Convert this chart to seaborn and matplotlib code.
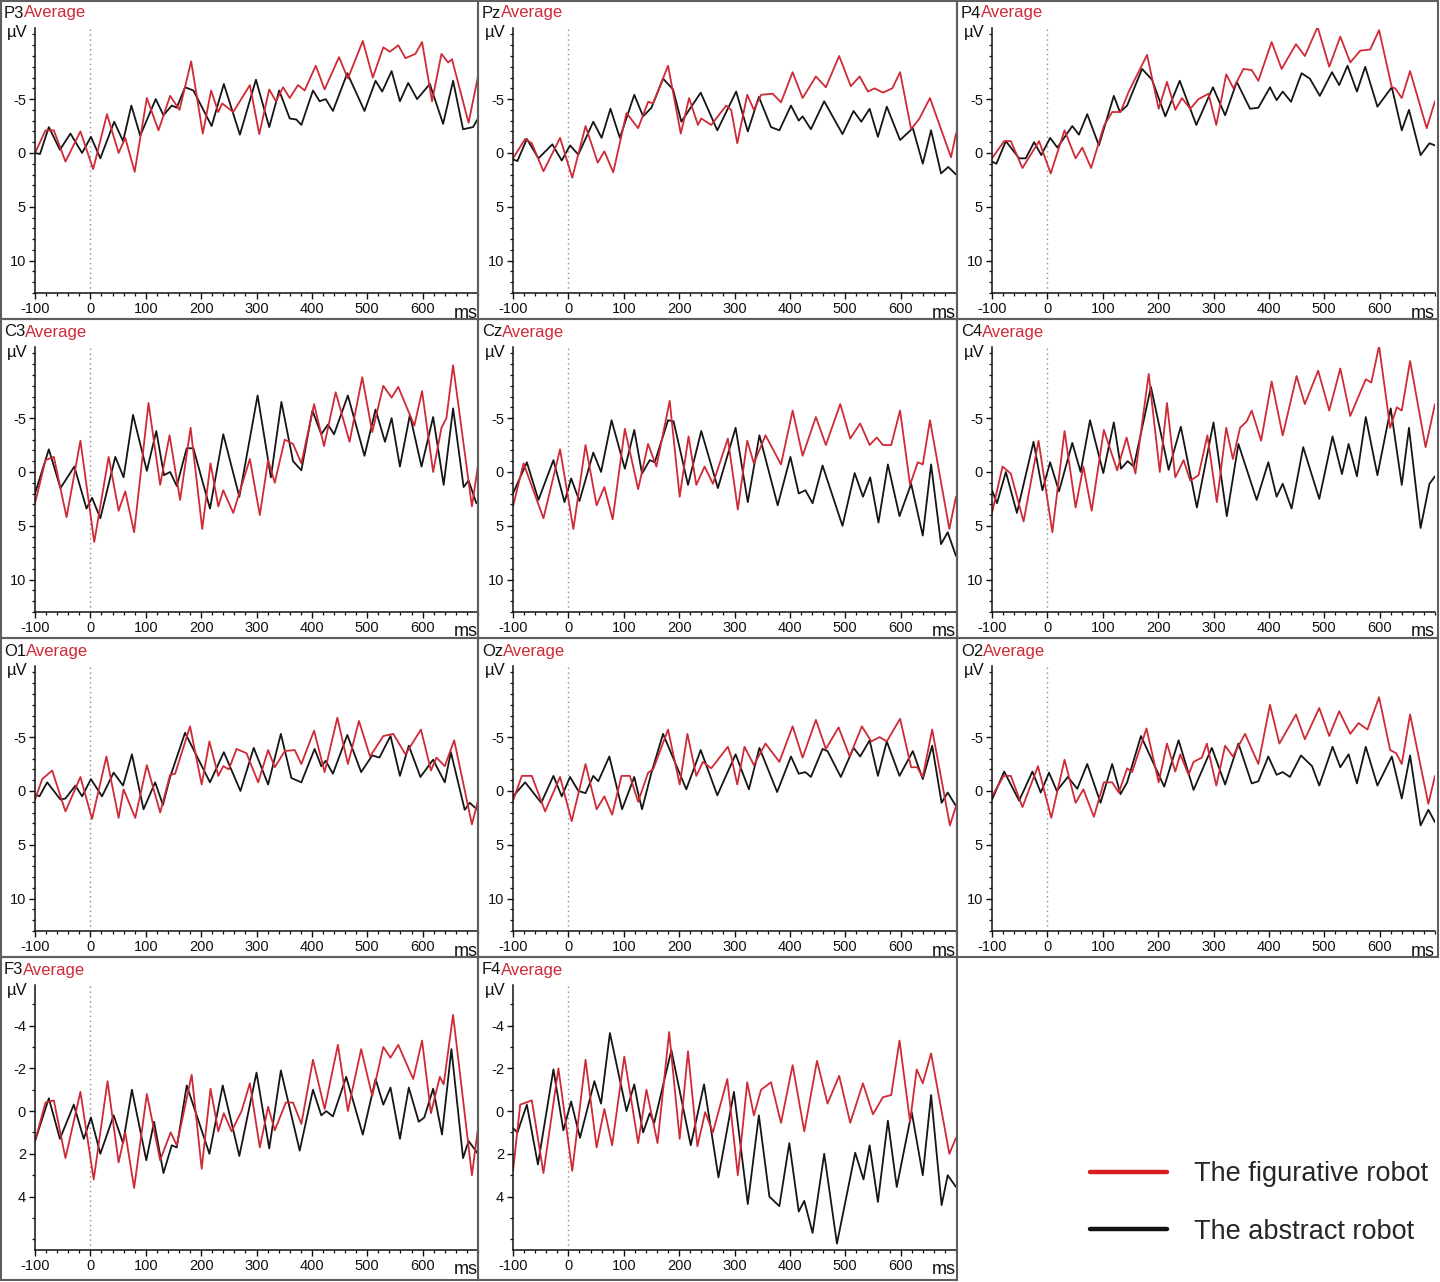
import matplotlib
matplotlib.use("Agg")
import matplotlib.pyplot as plt
import seaborn as sns
import pandas as pd
from matplotlib.patches import Rectangle
from matplotlib.lines import Line2D
from matplotlib.ticker import MultipleLocator, FixedLocator

sns.set_style("white")
plt.rcParams['font.family'] = ['Liberation Sans', 'DejaVu Sans']
plt.rcParams['axes.unicode_minus'] = False

# ---------------- data: (time ms, amplitude µV) ----------------
P3_figurative = [(-100,0),(-81,-2.1),(-66,-2.1),(-45,0.8),(-18,-2.0),(5,1.5),(30,-3.6),(51,0),(63,-1.4),(80,1.75),
    (102,-5.1),(123,-2.1),(144,-5.3),(161,-4.0),(182,-8.5),(203,-1.8),(218,-5.8),(231,-3.8),(238,-4.6),(258,-3.8),
    (288,-6.3),(305,-1.75),(323,-5.9),(335,-4.8),(348,-6.1),(360,-5.1),(375,-6.3),(387,-5.8),(407,-8.1),(423,-5.9),
    (449,-8.9),(465,-6.9),(492,-10.4),(510,-7.0),(529,-9.8),(541,-9.4),(556,-10.0),(569,-8.8),(587,-9.2),(599,-10.3),
    (617,-4.8),(634,-9.2),(646,-8.4),(653,-8.7),(683,-2.8),(700,-7.1)]
P3_abstract = [(-100,0),(-91,0.1),(-75,-2.4),(-55,-0.3),(-36,-1.8),(-15,0),(1,-1.5),(18,0.5),(43,-2.9),(59,-1.1),
    (74,-4.4),(90,-1.6),(118,-5.0),(132,-3.5),(147,-4.4),(156,-4.2),(171,-6.1),(186,-5.8),(219,-2.5),(241,-6.4),
    (270,-1.7),(299,-6.8),(323,-2.4),(341,-5.8),(360,-3.2),(372,-3.1),(381,-2.6),(402,-5.8),(414,-4.8),(425,-5.0),
    (438,-3.9),(464,-7.4),(495,-3.9),(515,-6.7),(527,-5.7),(544,-7.6),(559,-4.8),(574,-6.5),(590,-5.0),(613,-6.4),
    (637,-2.7),(655,-6.7),(673,-2.2),(691,-2.4),(700,-3.2)]

Pz_figurative = [(-100,0.5),(-78,-1.3),(-66,-0.9),(-45,1.7),(-15,-1.4),(7,2.3),(31,-2.5),(53,0.9),(65,-0.15),(81,1.8),
    (105,-3.7),(126,-2.3),(144,-4.75),(153,-4.6),(180,-8.1),(203,-1.8),(218,-5.1),(234,-2.6),(240,-3.2),(258,-2.6),
    (285,-4.4),(294,-4.0),(305,-0.9),(323,-5.4),(335,-4.0),(348,-5.4),(369,-5.5),(384,-4.7),(405,-7.5),(423,-5.1),
    (447,-7.1),(465,-6.1),(489,-9.0),(510,-6.2),(526,-7.1),(541,-5.7),(553,-6.0),(568,-5.6),(585,-6.0),(599,-7.5),
    (619,-2.2),(634,-3.2),(653,-5.1),(691,0.4),(700,-1.8)]
Pz_abstract = [(-100,0.6),(-92,0.75),(-75,-1.3),(-54,0.5),(-29,-0.8),(-12,0.7),(3,-0.7),(18,0.15),(45,-2.9),(60,-1.4),
    (76,-4.1),(93,-1.4),(119,-5.4),(135,-3.4),(150,-4.2),(171,-6.9),(189,-5.9),(204,-2.9),(239,-5.6),(269,-2.1),
    (303,-5.7),(324,-2.0),(344,-5.2),(366,-2.4),(381,-2.1),(402,-4.4),(416,-3.0),(423,-3.4),(438,-2.2),(462,-4.8),
    (495,-1.75),(515,-3.9),(529,-2.9),(544,-4.1),(559,-1.5),(575,-4.3),(599,-1.2),(622,-2.3),(640,1.0),(655,-2.1),
    (673,1.9),(686,1.3),(700,2.0)]

P4_figurative = [(-100,0.5),(-78,-1.1),(-66,-1.1),(-45,1.4),(-15,-1.1),(6,1.9),(31,-2.1),(51,0.5),(63,-0.5),(79,1.4),
    (102,-2.5),(117,-3.8),(132,-3.8),(147,-5.7),(180,-9.1),(201,-4.1),(216,-6.6),(231,-4.0),(243,-5.1),(258,-4.1),
    (273,-5.0),(291,-5.5),(305,-2.6),(323,-7.3),(336,-6.0),(354,-7.8),(369,-7.7),(381,-6.7),(405,-10.3),(423,-7.8),
    (449,-10.1),(465,-9.0),(488,-11.7),(509,-8.0),(529,-10.8),(547,-8.4),(565,-9.5),(583,-9.6),(599,-11.4),(622,-6.1),
    (628,-6.0),(640,-5.1),(655,-7.6),(685,-2.3),(700,-4.8)]
P4_abstract = [(-100,0.8),(-92,1.0),(-75,-1.1),(-51,0.5),(-39,0.5),(-24,-1.0),(-11,0.2),(5,-1.4),(18,-0.5),(45,-2.5),
    (57,-1.7),(72,-3.6),(93,-0.7),(120,-5.3),(131,-3.8),(144,-4.4),(171,-7.8),(189,-6.8),(213,-3.4),(239,-6.7),
    (269,-2.6),(299,-6.1),(321,-3.5),(342,-6.6),(366,-4.1),(381,-4.2),(402,-6.1),(414,-4.9),(425,-5.7),(440,-4.75),
    (459,-7.4),(474,-6.9),(492,-5.3),(514,-7.5),(527,-6.3),(542,-8.1),(559,-5.7),(574,-8.0),(596,-4.3),(622,-6.1),
    (640,-2.1),(653,-4.0),(674,0.2),(690,-0.9),(700,-0.7)]

C3_figurative = [(-100,2.9),(-81,-1.1),(-66,-1.4),(-43,4.2),(-18,-2.9),(7,6.5),(33,-1.4),(51,3.6),(63,1.8),(79,5.6),
    (105,-6.4),(126,1.2),(143,-3.4),(162,2.6),(181,-4.1),(202,5.3),(217,-0.8),(231,3.2),(240,1.7),(258,3.8),
    (288,-1.2),(306,4.0),(321,-1.1),(333,1.0),(351,-3.0),(366,-2.6),(381,-0.8),(404,-6.3),(422,-2.4),(443,-7.4),
    (468,-2.8),(491,-8.8),(509,-3.7),(529,-8.0),(544,-6.9),(556,-7.9),(585,-4.3),(599,-7.5),(619,0),(634,-4.1),
    (643,-5.0),(655,-9.9),(689,3.2),(700,-0.6)]
C3_abstract = [(-100,2.0),(-75,-2.1),(-54,1.5),(-29,-0.5),(-7,3.4),(3,2.4),(18,4.3),(45,-1.4),(60,0.5),(77,-5.3),
    (102,-0.1),(119,-3.8),(133,0.3),(144,0),(156,1.3),(174,-2.2),(186,-2.2),(216,3.4),(240,-3.5),(269,2.3),
    (302,-7.1),(326,0.5),(345,-6.5),(366,-1.0),(381,-0.15),(401,-5.7),(417,-3.5),(429,-4.4),(440,-3.5),(465,-7.1),
    (495,-1.5),(515,-5.8),(532,-2.8),(544,-5.0),(559,-0.5),(577,-5.3),(598,-0.5),(619,-5.1),(638,1.2),(655,-5.9),
    (674,1.4),(683,0.8),(697,2.9),(700,2.8)]

Cz_figurative = [(-100,3.2),(-81,-0.8),(-45,4.3),(-15,-2.1),(9,5.3),(31,-2.5),(51,3.1),(65,1.4),(80,4.4),(102,-4.0),
    (126,1.6),(144,-2.6),(159,-0.5),(183,-6.6),(201,2.3),(217,-3.3),(231,1.2),(246,-0.5),(261,1.1),(288,-3.1),
    (306,3.5),(323,-2.9),(335,-0.8),(356,-3.4),(384,-0.7),(405,-5.7),(423,-1.5),(447,-5.1),(465,-2.5),(491,-6.3),
    (509,-3.1),(527,-4.5),(544,-2.5),(557,-3.2),(568,-2.5),(583,-2.5),(599,-5.7),(617,1.2),(631,-0.9),(640,-0.7),
    (653,-4.8),(688,5.3),(700,2.3)]
Cz_abstract = [(-100,2.0),(-75,-0.9),(-54,2.6),(-27,-1.1),(-7,2.8),(5,0.6),(20,2.7),(45,-1.8),(59,0),(78,-4.8),
    (102,-0.3),(119,-3.9),(133,0.15),(147,-1.1),(156,-0.9),(180,-4.8),(190,-4.7),(216,1.2),(240,-3.8),(270,1.5),
    (302,-4.1),(324,2.8),(345,-3.4),(378,3.1),(401,-1.4),(416,2.0),(428,1.7),(441,2.9),(459,-0.6),(495,5.0),
    (517,0.1),(532,2.3),(545,0.5),(560,4.7),(577,-0.7),(598,4.1),(619,1.1),(640,5.9),(655,-0.7),(673,6.7),
    (685,5.6),(700,7.8)]

C4_figurative = [(-100,3.8),(-81,-0.5),(-66,0.15),(-43,4.6),(-16,-2.9),(9,5.6),(31,-3.8),(51,3.3),(65,-0.5),(80,3.6),
    (102,-3.9),(126,-0.15),(143,-3.2),(159,0.15),(183,-9.1),(203,0),(216,-6.4),(231,0.5),(246,-1.1),(258,0.8),
    (273,0.3),(289,-3.4),(306,2.8),(323,-4.1),(335,-1.2),(348,-4.1),(360,-4.7),(369,-5.7),(386,-2.9),(405,-8.4),
    (425,-3.4),(450,-8.9),(465,-6.3),(489,-9.4),(509,-5.7),(529,-9.6),(547,-5.2),(575,-8.6),(585,-8.3),(599,-11.7),
    (619,-4.1),(631,-6.0),(640,-5.7),(655,-10.3),(683,-2.3),(700,-6.3)]
C4_abstract = [(-100,1.7),(-91,2.9),(-75,0),(-55,3.8),(-25,-2.8),(-9,1.7),(5,-0.9),(21,1.8),(45,-2.7),(60,0),
    (77,-4.8),(101,0.1),(120,-4.6),(133,-0.3),(145,-1.0),(156,-0.5),(187,-7.9),(219,-0.2),(241,-4.2),(270,3.3),
    (300,-4.6),(324,4.1),(345,-2.6),(378,2.6),(399,-0.9),(414,2.3),(425,1.1),(441,3.4),(462,-2.3),(491,2.5),
    (515,-3.3),(532,0.2),(544,-2.6),(559,0.4),(575,-5.1),(596,0.3),(620,-5.9),(640,1.2),(653,-4.1),(674,5.2),
    (690,1.1),(700,0.4)]

O1_figurative = [(-100,0.8),(-87,-1.1),(-69,-1.9),(-45,1.9),(-18,-1.3),(3,2.6),(29,-3.2),(51,2.5),(60,-0.15),(81,2.5),
    (102,-2.4),(126,2.0),(144,-1.5),(153,-1.6),(180,-6.0),(201,-0.6),(215,-4.6),(231,-1.4),(240,-2.3),(250,-2.0),
    (264,-3.9),(282,-3.5),(303,-0.8),(321,-3.8),(333,-2.2),(351,-3.7),(369,-3.8),(381,-2.5),(404,-5.6),(423,-1.75),
    (446,-6.8),(465,-2.5),(485,-6.5),(505,-3.2),(529,-5.1),(547,-5.3),(569,-3.4),(597,-5.7),(615,-1.9),(625,-3.1),
    (640,-2.3),(657,-4.7),(689,3.1),(700,0.9)]
O1_abstract = [(-100,0.3),(-92,0.5),(-78,-0.8),(-54,0.8),(-45,0.7),(-27,-0.5),(-15,0.5),(1,-1.1),(21,0.5),(42,-1.7),
    (59,-0.5),(75,-3.4),(96,1.7),(117,-0.8),(131,1.3),(144,-1.3),(171,-5.4),(216,-0.8),(241,-3.6),(271,0),
    (295,-4.0),(321,-0.6),(344,-5.3),(363,-1.2),(381,-0.8),(405,-3.9),(417,-2.3),(425,-2.8),(438,-1.6),(464,-5.2),
    (489,-1.75),(509,-3.3),(522,-3.1),(542,-5.1),(559,-1.4),(575,-4.2),(596,-1.3),(619,-2.9),(640,-0.8),(651,-3.6),
    (676,1.75),(685,1.1),(700,1.8)]

Oz_figurative = [(-100,0.9),(-84,-1.4),(-66,-1.4),(-42,1.9),(-15,-1.3),(6,2.8),(31,-2.5),(51,1.7),(65,0.5),(79,2.2),
    (96,-1.4),(111,-1.4),(126,1.0),(144,-1.7),(153,-2.0),(180,-5.7),(201,-0.6),(215,-5.3),(231,-1.4),(243,-2.7),
    (258,-2.1),(288,-4.1),(294,-3.2),(305,-0.6),(318,-4.1),(335,-2.4),(356,-4.4),(381,-2.7),(405,-6.0),(423,-3.1),
    (447,-6.6),(465,-3.9),(488,-5.9),(508,-3.2),(530,-6.0),(547,-4.6),(562,-5.0),(575,-4.6),(599,-6.7),(619,-2.2),
    (630,-2.2),(640,-1.3),(657,-5.7),(689,3.2),(700,1.4)]
Oz_abstract = [(-100,0.5),(-78,-0.8),(-49,1.1),(-27,-1.4),(-12,0.5),(3,-1.3),(18,0),(31,0.2),(45,-1.4),(54,-0.9),
    (74,-3.2),(97,1.7),(119,-1.3),(133,1.7),(150,-1.7),(171,-5.3),(213,-0.15),(239,-3.8),(269,0.4),(302,-3.4),
    (326,-0.15),(345,-4.0),(377,0.1),(402,-3.2),(416,-1.6),(428,-1.75),(438,-1.3),(459,-3.9),(468,-3.7),(492,-1.3),
    (515,-4.0),(527,-3.2),(544,-4.7),(559,-1.4),(575,-4.6),(598,-1.4),(622,-3.7),(640,-1.1),(657,-4.2),(674,1.1),
    (685,0.15),(700,1.4)]

O2_figurative = [(-100,0.5),(-79,-1.4),(-66,-1.4),(-45,1.5),(-17,-2.3),(7,2.5),(31,-2.9),(51,1.1),(65,-0.15),(84,2.4),
    (102,-0.8),(117,-0.8),(129,0.15),(144,-2.1),(153,-1.75),(179,-5.8),(201,-0.8),(216,-4.4),(231,-1.8),(240,-3.4),
    (255,-1.5),(264,-2.7),(279,-3.1),(288,-4.4),(305,-0.5),(321,-4.2),(335,-3.2),(357,-5.3),(381,-2.5),(402,-8.0),
    (419,-4.4),(449,-7.1),(465,-4.8),(491,-7.7),(509,-5.1),(527,-7.4),(547,-5.3),(562,-6.3),(578,-5.7),(599,-8.7),
    (619,-3.8),(630,-3.5),(640,-2.5),(655,-7.1),(688,1.2),(700,-1.4)]
O2_abstract = [(-100,0.8),(-78,-1.8),(-51,0.9),(-27,-1.8),(-12,0.15),(3,-1.7),(17,0),(37,-1.3),(54,-0.2),(72,-2.5),
    (96,1.1),(117,-2.5),(132,0.3),(144,-0.8),(169,-5.1),(211,-0.4),(237,-4.7),(264,-0.1),(297,-4.0),(321,-0.6),
    (345,-4.4),(369,-0.7),(381,-0.9),(399,-3.2),(414,-1.5),(425,-1.75),(438,-1.3),(458,-3.3),(478,-2.3),(491,-0.5),
    (515,-4.1),(529,-2.2),(544,-3.4),(559,-0.7),(575,-4.1),(596,-0.5),(622,-3.2),(640,0.7),(655,-3.3),(674,3.2),
    (688,1.75),(700,2.9)]

F3_figurative = [(-100,1.4),(-81,-0.4),(-66,-0.5),(-45,2.2),(-18,-0.9),(6,3.2),(31,-1.4),(51,2.4),(63,1.0),(79,3.6),
    (102,-0.8),(126,2.3),(145,1.0),(156,1.6),(183,-1.7),(201,2.7),(217,-1.05),(231,0.95),(241,0.1),(255,0.95),
    (273,0.0),(288,-1.3),(306,1.7),(321,-0.2),(333,0.9),(353,-0.4),(366,-0.4),(381,0.6),(402,-2.4),(423,-0.1),
    (447,-3.1),(465,0),(489,-2.9),(509,-0.7),(529,-3.0),(542,-2.5),(556,-3.1),(583,-1.5),(599,-3.3),(615,0.1),
    (631,-1.6),(638,-1.25),(655,-4.5),(689,3.0),(700,0.8)]
F3_abstract = [(-100,1.4),(-75,-0.6),(-55,1.3),(-30,-0.3),(-12,1.3),(1,0.3),(18,2.0),(42,0.2),(59,1.5),(75,-1.0),
    (101,2.3),(115,0.5),(132,2.9),(147,1.6),(156,1.7),(174,-1.2),(215,2.0),(239,-1.2),(269,2.1),(300,-1.8),
    (323,1.75),(344,-1.9),(378,1.85),(402,-1.0),(417,0.2),(426,0),(438,0.25),(462,-1.6),(492,1.1),(515,-1.5),
    (529,-0.3),(542,-1.1),(559,1.3),(575,-1.1),(593,0.5),(603,0.3),(619,-1.05),(635,1.1),(652,-2.9),(673,2.2),
    (683,1.4),(700,2.0)]

F4_figurative = [(-100,2.8),(-87,-0.3),(-66,-0.5),(-45,2.9),(-18,-2.0),(7,2.8),(31,-2.4),(51,1.7),(65,-0.1),(79,1.6),
    (101,-2.55),(126,1.5),(141,-1.0),(161,1.5),(182,-3.7),(201,1.3),(216,-2.8),(233,1.65),(247,0.05),(261,1.0),
    (287,-1.5),(306,3.0),(323,-1.35),(335,0.2),(348,-1.0),(366,-1.35),(384,0.55),(405,-2.15),(426,0.95),(449,-2.35),
    (468,-0.35),(489,-1.65),(509,0.55),(532,-1.3),(550,0.15),(568,-0.65),(583,-0.75),(598,-3.3),(617,0.5),(629,-1.95),
    (640,-1.3),(655,-2.7),(688,2.0),(700,1.25)]
F4_abstract = [(-100,0.8),(-92,1.0),(-75,-0.3),(-55,2.5),(-27,-1.95),(-9,0.9),(5,-0.45),(21,1.25),(47,-1.4),(59,-0.35),
    (75,-3.65),(105,0),(119,-1.25),(135,1.0),(147,0.1),(155,0.55),(186,-2.85),(221,1.6),(245,-1.25),(271,3.1),
    (299,-0.9),(324,4.35),(344,0.2),(363,4.0),(381,4.45),(399,1.5),(416,4.7),(426,4.2),(441,5.7),(462,2.0),
    (485,6.2),(518,1.95),(533,3.2),(544,1.6),(559,4.25),(577,0.45),(593,3.55),(620,0.05),(640,3.0),(655,-0.75),
    (674,4.4),(685,3.0),(700,3.55)]

channels = ["P3", "Pz", "P4", "C3", "Cz", "C4", "O1", "Oz", "O2", "F3", "F4"]
figurative = [P3_figurative, Pz_figurative, P4_figurative, C3_figurative, Cz_figurative, C4_figurative,
              O1_figurative, Oz_figurative, O2_figurative, F3_figurative, F4_figurative]
abstract = [P3_abstract, Pz_abstract, P4_abstract, C3_abstract, Cz_abstract, C4_abstract,
            O1_abstract, Oz_abstract, O2_abstract, F3_abstract, F4_abstract]
conditions = ["The figurative robot", "The abstract robot"]
big_ticks = [-5, 0, 5, 10]
small_ticks = [-4, -2, 0, 2, 4]
x_ticks = [-100, 0, 100, 200, 300, 400, 500, 600]

# ---------------- styling ----------------
W, H = 1440, 1282
RED = "#cf2a36"
BLACK = "#151515"
fig = plt.figure(figsize=(W / 100, H / 100), dpi=100)
fig.patch.set_facecolor("white")

col_x = [0, 478, 957]
row_y = [0, 319, 638, 957]
frame_x = [(1, 478), (478, 957), (957, 1438)]
frame_y = [(1, 319), (319, 638), (638, 957), (957, 1280)]

for i, ch in enumerate(channels):
    r, c = divmod(i, 3)
    x0, y0 = col_x[c], row_y[r]
    fx0, fx1 = frame_x[c]
    fy0, fy1 = frame_y[r]
    fig.patches.append(Rectangle((fx0 / W, 1 - fy1 / H), (fx1 - fx0) / W, (fy1 - fy0) / H,
                                 transform=fig.transFigure, fill=False, edgecolor="#5e5e5e", lw=1.5))
    ax = fig.add_axes([(x0 + 35) / W, 1 - (y0 + 293) / H, 443 / W, 265 / H])
    ax.set_facecolor("none")

    rows = []
    for cond, ser in ((conditions[1], abstract[i]), (conditions[0], figurative[i])):
        for t, v in ser:
            rows.append({"t": t, "v": v, "cond": cond})
    df = pd.DataFrame(rows)
    sns.lineplot(data=df, x="t", y="v", hue="cond", hue_order=[conditions[1], conditions[0]],
                 palette={conditions[0]: RED, conditions[1]: BLACK}, estimator=None, sort=False,
                 legend=False, lw=1.3, ax=ax, solid_joinstyle="round", solid_capstyle="round")
    ax.axvline(0, color="#8a8a8a", ls=(0, (1, 2.5)), lw=1.0, zorder=0)

    ax.set_xlim(-100, 700)
    if ch in ("F3", "F4"):
        ax.set_ylim(6.5, -5.9)
        ax.yaxis.set_major_locator(FixedLocator(small_ticks))
    else:
        ax.set_ylim(13.0, -11.6)
        ax.yaxis.set_major_locator(FixedLocator(big_ticks))
    ax.yaxis.set_minor_locator(MultipleLocator(1))
    ax.xaxis.set_major_locator(FixedLocator(x_ticks))
    ax.xaxis.set_minor_locator(MultipleLocator(20))
    ax.set_xlabel("")
    ax.set_ylabel("")
    for s in ("top", "right"):
        ax.spines[s].set_visible(False)
    for s in ("left", "bottom"):
        ax.spines[s].set_color("#111111")
        ax.spines[s].set_linewidth(1.1)
    ax.tick_params(which="major", direction="out", length=4.5, width=1.0, labelsize=10.5,
                   colors="#111111", pad=2, left=True, bottom=True)
    ax.tick_params(which="minor", direction="out", length=2.5, width=0.9, colors="#111111",
                   left=True, bottom=True)

    t1 = fig.text((x0 + 4) / W, 1 - (y0 + 13) / H, ch, fontsize=12, color="#111111", va="center", ha="left")
    ax.annotate("Average", xy=(1.0, 0.5), xycoords=t1, va="center", ha="left", fontsize=12,
                color=RED, annotation_clip=False)
    fig.text((x0 + 7) / W, 1 - (y0 + 33) / H, "µV", fontsize=12, color="#111111", va="center", ha="left")
    fig.text((x0 + 478) / W, 1 - (y0 + 313) / H, "ms", fontsize=13, color="#111111", va="center", ha="right")

handles = [Line2D([0], [0], color="#d91c1c", lw=3.2), Line2D([0], [0], color="#111111", lw=3.2)]
fig.legend(handles, conditions, loc="center left", bbox_to_anchor=(1090 / W, 1 - 1203 / H),
           frameon=False, fontsize=19.5, handlelength=2.85, handletextpad=1.0, labelspacing=1.15,
           borderpad=0, borderaxespad=0)

fig.savefig("out.png", dpi=100, facecolor="white")
